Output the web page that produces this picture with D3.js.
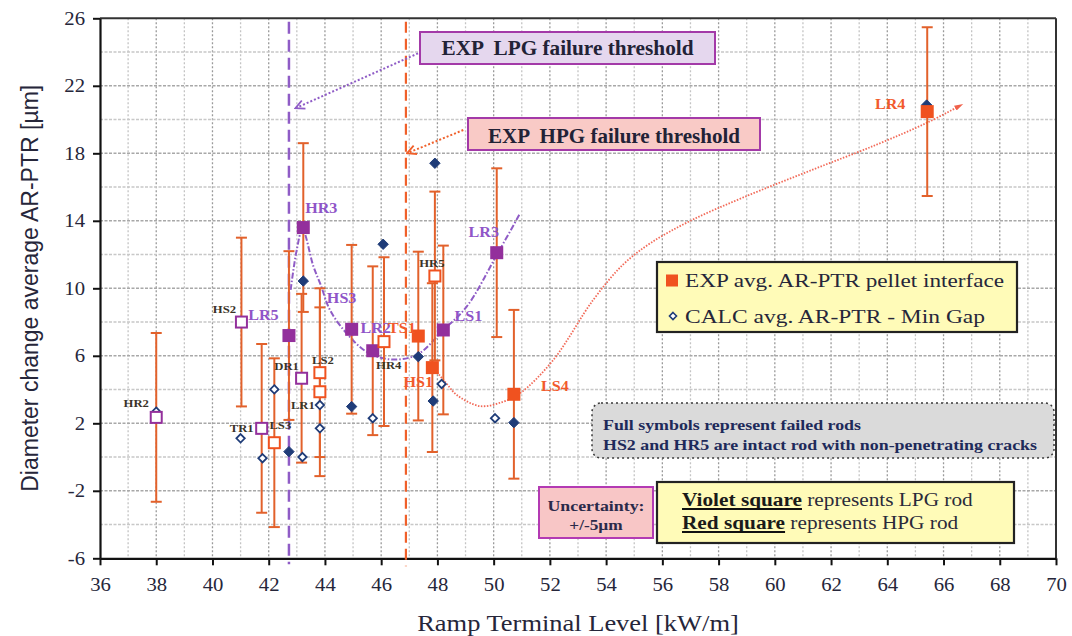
<!DOCTYPE html>
<html><head><meta charset="utf-8">
<script src="https://cdn.jsdelivr.net/npm/d3@7"></script>
<style>body{margin:0;background:#fff} svg{display:block} text{white-space:pre}</style>
</head><body>
<svg id="chart" width="1072" height="636"></svg>
<script>
// ---------------- data ----------------
const xTicks = [36,38,40,42,44,46,48,50,52,54,56,58,60,62,64,66,68,70];
const yTicks = [26,22,18,14,10,6,2,-2,-6];

// EXP avg. AR-PTR pellet interface (squares, error bar +/-5 µm)
const expName   = ["HR2","LR5","TR1","LS3","LR6","HR3","DR1","LS2","LS2b","LR2","HR4","TS1","TS2","HS1","HR5","LS1","LR3","LS4","LR4"];
const expX      = [38.0, 41.03, 41.75, 42.2, 42.72, 43.23, 43.17, 43.82, 43.82, 44.95, 45.70, 46.10, 47.32, 47.82, 47.91, 48.21, 50.11, 50.72, 65.42];
const expY      = [2.35, 8.0,   1.7,   0.85, 7.2,   13.6,  4.67,  5.0,   3.87,  7.57,  6.30,  6.84,  7.17,  5.30,  10.73, 7.53,  12.11, 3.72,  20.47];
const expGroup  = ["LPG","LPG","LPG","HPG","LPG","LPG","LPG","HPG","HPG","LPG","LPG","HPG","HPG","HPG","HPG","LPG","LPG","HPG","HPG"];
const expFailed = [false,false,false,false,true,true,false,false,false,true,true,false,true,true,false,true,true,true,true];
const expUncertainty = 5;

// CALC avg. AR-PTR - Min Gap (diamonds)
const calcX      = [38.0, 41.0, 41.78, 42.2, 42.72, 43.23, 43.2, 43.82, 43.82, 44.95, 45.70, 46.07, 47.32, 47.85, 47.91, 48.15, 50.05, 50.72, 65.40];
const calcY      = [2.69, 1.11, -0.07, 4.01, 0.32,  10.43, 0.0,  3.08,  1.7,   2.99,  2.30,  12.61, 5.95,  3.32,  17.41, 4.33,  2.30,  2.04,  20.86];
const calcFailed = [false,false,false,false,true,true,false,false,false,true,false,true,true,true,true,false,false,true,true];

// failure thresholds (kW/m)
const lpgThreshold = 42.72;
const hpgThreshold = 46.88;

// hand-drawn trend curves
const lpgTrendX = [42.78, 43.0, 43.2, 43.59, 43.85, 44.18, 44.77, 45.48, 46.31, 47.26, 48.21, 49.04, 50.11, 50.94];
const lpgTrendY = [9.9,   12.3, 13.5, 11.3,  10.2,  8.71,  7.33,  6.24,  5.79,  6.05,  7.53,  8.91,  11.97, 14.44];
const hpgTrendX = [47.85, 48.3, 48.69, 49.51, 50.34, 50.94, 52.12, 53.54, 54.6, 55.6, 57.0, 58.9, 61.3, 63.6, 65.4, 66.56];
const hpgTrendY = [5.3,   4.4,  3.68,  3.02,  3.28,  3.78,  5.75,  9.31,  11.4, 12.7, 14.0, 15.4, 17.0, 18.5, 19.8, 20.8];

// point labels
const labelText  = ["HR2","HS2","LR5","TR1","LS3","DR1","LS2","LR1","HR3","HS3","LR2","TS1","HR4","HS1","HR5","LS1","LR3","LS4","LR4"];
const labelPoint = ["HR2","LR5","LR5","TR1","LS3","DR1","LS2","LS2b","HR3","LR2","LR2","TS1","HR4","HS1","HR5","LS1","LR3","LS4","LR4"];
const labelKind  = ["dark","dark","LPG","dark","dark","dark","dark","dark","LPG","LPG","LPG","HPG","dark","HPG","dark","LPG","LPG","HPG","HPG"];

const legendLabels = ["EXP avg. AR-PTR pellet interface","CALC avg. AR-PTR - Min Gap"];

// ---------------- layout / style ----------------
const W = 1072, H = 636;
const pL = 100, pR = 1056, pT = 18.3, pB = 558.3;
const C = {violet:"#93309c", red:"#f0521f", err:"#e2612b", navy:"#1f3c78",
  lpgLine:"#8f5cc6", hpgLine:"#f0602a", labViolet:"#8f55c8", labRed:"#f25a2c", labDark:"#3a3328",
  text:"#26263a"};
const labelOffset = {HR2:[-20,-14],HS2:[-17,-13],LR5:[22,-7],TR1:[-20,0],LS3:[6,-18],DR1:[-15,-12],LS2:[3,-13],LR1:[-17,13],
  HR3:[18,-19],HS3:[-10,-31],LR2:[24,-1],TS1:[18,-14],HR4:[16,14],HS1:[-14,14],HR5:[-3,-13],LS1:[25,-14],LR3:[-13,-21],LS4:[41,-8],LR4:[-37,-8]};
const SERIF = "'Liberation Serif','Times New Roman',serif";
const SX = 1.15; // horizontal text stretch of the reference

const svg = d3.select("#chart");
const x = d3.scaleLinear().domain([36,70]).range([pL,pR]);
const y = d3.scaleLinear().domain([-6,26]).range([pB,pT]);

function stretch(sel, k, target){
  sel.each(function(){
    const w = this.getComputedTextLength();
    d3.select(this).attr("textLength", target || w*k).attr("lengthAdjust","spacingAndGlyphs");
  });
  return sel;
}

svg.append("rect").attr("width",W).attr("height",H).attr("fill","#fff");

// grid
const g = svg.append("g");
g.selectAll(".vg").data(d3.range(37,70)).join("line")
  .attr("x1",d=>x(d)).attr("x2",d=>x(d)).attr("y1",pT).attr("y2",pB)
  .attr("stroke",d=>d%2===0?"#9a9a9a":"#c4c4c4").attr("stroke-width",1.3).attr("stroke-dasharray","2,2");
g.selectAll(".hg").data(d3.range(-4,26,2)).join("line")
  .attr("x1",pL).attr("x2",pR).attr("y1",d=>y(d)).attr("y2",d=>y(d))
  .attr("stroke",d=>yTicks.includes(d)?"#a8a8a8":"#c8c8c8").attr("stroke-width",1.6).attr("stroke-dasharray","3,1.5");

// frame
svg.append("line").attr("x1",pL).attr("x2",pR).attr("y1",pT).attr("y2",pT).attr("stroke","#333").attr("stroke-width",2);
svg.append("line").attr("x1",pR).attr("x2",pR).attr("y1",pT).attr("y2",pB).attr("stroke","#333").attr("stroke-width",2);

// axes
const fmt = d=>String(d);
const xAxis = d3.axisBottom(x).tickValues(xTicks).tickSize(7).tickSizeOuter(0).tickFormat(fmt);
const yAxis = d3.axisLeft(y).tickValues(yTicks).tickSize(7).tickSizeOuter(0).tickFormat(fmt);
const gx = svg.append("g").attr("transform",`translate(0,${pB})`).call(xAxis);
const gy = svg.append("g").attr("transform",`translate(${pL},0)`).call(yAxis);
[gx,gy].forEach(a=>{
  a.select(".domain").attr("stroke","#111").attr("stroke-width",2.2);
  a.selectAll(".tick line").attr("stroke","#111").attr("stroke-width",2);
  a.selectAll(".tick text").attr("font-family",SERIF).attr("font-size",18).attr("fill",C.text);
});
gx.selectAll(".tick text").attr("dy",null).attr("y",33);
gy.selectAll(".tick text").attr("x",-15).attr("dy","0.34em");
stretch(gx.selectAll(".tick text"),SX);
stretch(gy.selectAll(".tick text"),SX);

// axis titles
stretch(svg.append("text").attr("x",(pL+pR)/2).attr("y",631).attr("text-anchor","middle")
  .attr("font-family",SERIF).attr("font-size",23).attr("fill",C.text).text("Ramp Terminal Level [kW/m]"),SX);
svg.append("text").attr("transform",`translate(38,${(pT+pB)/2}) rotate(-90)`).attr("text-anchor","middle")
  .attr("font-family","'Liberation Sans',Arial,sans-serif").attr("font-size",23).attr("fill",C.text)
  .text("Diameter change average AR-PTR [µm]");

// threshold lines
svg.append("line").attr("x1",x(lpgThreshold)).attr("x2",x(lpgThreshold)).attr("y1",y(25.8)).attr("y2",pB+6)
  .attr("stroke",C.lpgLine).attr("stroke-width",2.5).attr("stroke-dasharray","12,6");
svg.append("line").attr("x1",x(hpgThreshold)).attr("x2",x(hpgThreshold)).attr("y1",y(25.8)).attr("y2",pB+8)
  .attr("stroke",C.hpgLine).attr("stroke-width",2.2).attr("stroke-dasharray","11,6");

// markers
const defs = svg.append("defs");
function chevron(id,color){
  defs.append("marker").attr("id",id).attr("viewBox","0 0 12 12").attr("refX",11).attr("refY",6)
    .attr("markerWidth",12).attr("markerHeight",12).attr("markerUnits","userSpaceOnUse").attr("orient","auto")
    .append("path").attr("d","M2,1.5 L11,6 L2,10.5").attr("fill","none").attr("stroke",color).attr("stroke-width",1.8);
}
chevron("arrV",C.lpgLine); chevron("arrR",C.hpgLine);
defs.append("marker").attr("id","endR").attr("viewBox","0 0 10 10").attr("refX",5).attr("refY",5)
  .attr("markerWidth",9).attr("markerHeight",9).attr("markerUnits","userSpaceOnUse").attr("orient","auto")
  .append("path").attr("d","M0,2 L10,5 L0,8 Z").attr("fill","#f0604a");

// trend curves
const line = d3.line().x(d=>x(d[0])).y(d=>y(d[1])).curve(d3.curveCatmullRom.alpha(0.5));
svg.append("path").attr("d",line(lpgTrendX.map((v,i)=>[v,lpgTrendY[i]])))
  .attr("fill","none").attr("stroke",C.lpgLine).attr("stroke-width",2).attr("stroke-dasharray","6,2,1.5,2");
svg.append("path").attr("d",line(hpgTrendX.map((v,i)=>[v,hpgTrendY[i]])))
  .attr("fill","none").attr("stroke","#f26a58").attr("stroke-width",1.8).attr("stroke-dasharray","1.5,1.5")
  .attr("marker-end","url(#endR)");

// annotation arrows (in data coordinates)
const lpgArrow = [[47.44,24.02],[42.95,20.67]];
const hpgArrow = [[48.92,19.38],[46.92,18.0]];
svg.append("line").attr("x1",x(lpgArrow[0][0])).attr("y1",y(lpgArrow[0][1])).attr("x2",x(lpgArrow[1][0])).attr("y2",y(lpgArrow[1][1]))
  .attr("stroke",C.lpgLine).attr("stroke-width",2).attr("stroke-dasharray","2,2").attr("marker-end","url(#arrV)");
svg.append("line").attr("x1",x(hpgArrow[0][0])).attr("y1",y(hpgArrow[0][1])).attr("x2",x(hpgArrow[1][0])).attr("y2",y(hpgArrow[1][1]))
  .attr("stroke",C.hpgLine).attr("stroke-width",2).attr("stroke-dasharray","2,2").attr("marker-end","url(#arrR)");

// error bars
const exp = expName.map((n,i)=>({n,x:expX[i],y:expY[i],g:expGroup[i],f:expFailed[i]}));
const eb = svg.append("g").attr("stroke",C.err).attr("stroke-width",2).attr("fill","none");
exp.forEach(d=>{
  const cx=x(d.x), y1=y(d.y+expUncertainty), y2=y(d.y-expUncertainty);
  eb.append("line").attr("x1",cx).attr("x2",cx).attr("y1",y1).attr("y2",y2);
  eb.append("line").attr("x1",cx-5.5).attr("x2",cx+5.5).attr("y1",y1).attr("y2",y1);
  eb.append("line").attr("x1",cx-5.5).attr("x2",cx+5.5).attr("y1",y2).attr("y2",y2);
});

// CALC diamonds
const calc = calcX.map((v,i)=>({x:v,y:calcY[i],f:calcFailed[i]}));
svg.append("g").selectAll("path").data(calc).join("path")
  .attr("transform",d=>`translate(${x(d.x)},${y(d.y)})`)
  .attr("d",d=>{const r=d.f?5.2:4.2; return `M0,${-r}L${r},0L0,${r}L${-r},0Z`;})
  .attr("fill",d=>d.f?C.navy:"#fff").attr("stroke",C.navy).attr("stroke-width",d=>d.f?1:1.8);

// EXP squares
svg.append("g").selectAll("rect").data(exp).join("rect")
  .attr("x",d=>x(d.x)-(d.f?6.5:5.5)).attr("y",d=>y(d.y)-(d.f?6.5:5.5))
  .attr("width",d=>d.f?13:11).attr("height",d=>d.f?13:11)
  .attr("fill",d=>d.f?(d.g==="LPG"?C.violet:C.red):"#fff")
  .attr("stroke",d=>d.g==="LPG"?C.violet:C.red).attr("stroke-width",d=>d.f?0:2);

// point labels
const lab = svg.append("g").attr("font-family",SERIF).attr("font-weight","bold").attr("text-anchor","middle");
labelText.forEach((t,i)=>{
  const p = exp.find(d=>d.n===labelPoint[i]);
  const o = labelOffset[t];
  const k = labelKind[i];
  const el = lab.append("text").attr("x",x(p.x)+o[0]).attr("y",y(p.y)+o[1]).attr("dy","0.35em")
    .attr("font-size",k==="dark"?11:14)
    .attr("fill",k==="dark"?C.labDark:(k==="LPG"?C.labViolet:C.labRed)).text(t);
  stretch(el,SX);
});

// annotation boxes
function box(x0,y0,x1,y1,fill,stroke,sw,rx,dash){
  const r=svg.append("rect").attr("x",x0).attr("y",y0).attr("width",x1-x0).attr("height",y1-y0)
    .attr("fill",fill).attr("stroke",stroke).attr("stroke-width",sw).attr("rx",rx||0);
  if(dash) r.attr("stroke-dasharray",dash);
}
box(420,32,715,64,"#e5d7ee","#a33aa8",2);
stretch(svg.append("text").attr("x",567.5).attr("y",55).attr("text-anchor","middle").attr("font-family",SERIF)
  .attr("font-weight","bold").attr("font-size",20).attr("fill","#222236").text("EXP  LPG failure threshold"),SX,252);
box(468,118,760,150,"#f9cac6","#a33aa8",2);
stretch(svg.append("text").attr("x",614).attr("y",143).attr("text-anchor","middle").attr("font-family",SERIF)
  .attr("font-weight","bold").attr("font-size",20).attr("fill","#222236").text("EXP  HPG failure threshold"),SX,252);

// legend
box(657,262,1017,332,"#fffbb8","#222",2.2);
svg.append("rect").attr("x",666).attr("y",274.5).attr("width",12).attr("height",12).attr("fill",C.red);
svg.append("path").attr("transform","translate(673,316)").attr("d","M0,-3.5L3.5,0L0,3.5L-3.5,0Z")
  .attr("fill","#fff").attr("stroke",C.navy).attr("stroke-width",1.6);
stretch(svg.append("text").attr("x",685).attr("y",287).attr("font-family",SERIF).attr("font-size",19.5)
  .attr("fill",C.text).text(legendLabels[0]),SX,319);
stretch(svg.append("text").attr("x",685).attr("y",323).attr("font-family",SERIF).attr("font-size",19.5)
  .attr("fill",C.text).text(legendLabels[1]),SX,300);

// gray note
box(592,403,1054,458,"#dadada","#3a3a3a",1.5,9,"2,3");
stretch(svg.append("text").attr("x",603).attr("y",430).attr("font-family",SERIF).attr("font-weight","bold")
  .attr("font-size",15.5).attr("fill","#1e2a5a").text("Full symbols represent failed rods"),SX,258);
stretch(svg.append("text").attr("x",603).attr("y",450).attr("font-family",SERIF).attr("font-weight","bold")
  .attr("font-size",15.5).attr("fill","#1e2a5a").text("HS2 and HR5 are intact rod with non-penetrating cracks"),SX,434);

// uncertainty
box(539,487,653,538,"#f8c6c6","#b33ab3",2);
stretch(svg.append("text").attr("x",596).attr("y",511).attr("text-anchor","middle").attr("font-family",SERIF).attr("font-weight","bold")
  .attr("font-size",15).attr("fill","#2a2a4a").text("Uncertainty:"),SX,97);
stretch(svg.append("text").attr("x",596).attr("y",530).attr("text-anchor","middle").attr("font-family",SERIF).attr("font-weight","bold")
  .attr("font-size",15).attr("fill","#2a2a4a").text("+/-5µm"),SX);

// colour key
box(657,482,1014,543,"#fffbb8","#222",2.2);
function keyLine(yb,boldT,restT){
  const b = svg.append("text").attr("x",682).attr("y",yb).attr("font-family",SERIF).attr("font-weight","bold")
    .attr("font-size",18.5).attr("fill","#1a1a1a").text(boldT);
  stretch(b,SX);
  const bw = +b.attr("textLength");
  svg.append("line").attr("x1",682).attr("x2",682+bw).attr("y1",yb+3).attr("y2",yb+3).attr("stroke","#111").attr("stroke-width",2.2);
  stretch(svg.append("text").attr("x",682+bw).attr("y",yb).attr("font-family",SERIF)
    .attr("font-size",18.5).attr("fill","#2a2a3a").text(restT),SX);
}
keyLine(506,"Violet square"," represents LPG rod");
keyLine(529,"Red square"," represents HPG rod");
</script>
</body></html>
